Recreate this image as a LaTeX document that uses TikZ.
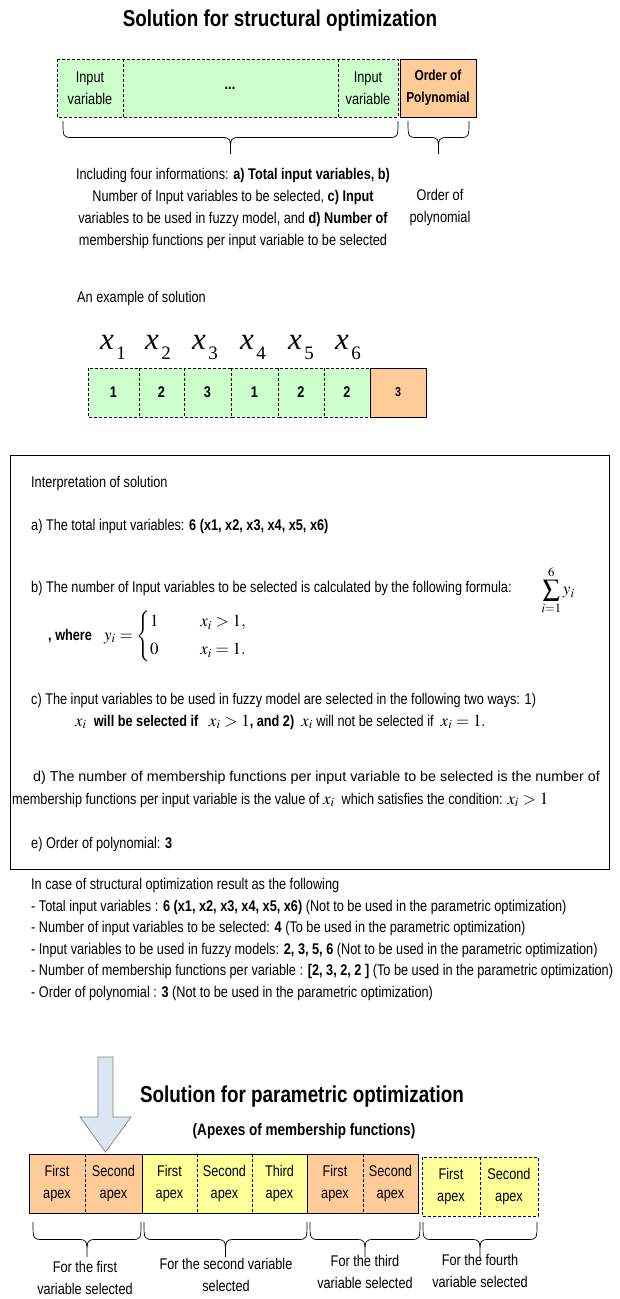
\documentclass[tikz,border=0pt]{standalone}
\usepackage{amsmath}
\usepackage{mathptmx}
\usepackage[no-math]{fontspec}
\setmainfont{Liberation Sans}[FakeStretch=0.82]
\newfontfamily\timesfont{Liberation Serif}
\newfontfamily\widefont{Liberation Sans}
\usetikzlibrary{positioning}
\definecolor{cellgreen}{HTML}{CCFFCC}
\definecolor{cellorange}{HTML}{FFCC99}
\definecolor{cellyellow}{HTML}{FFFF99}
\definecolor{arrowblue}{HTML}{DCE6F2}
% tall curly brace: x-left, x-right, y-top, height
\newcommand{\curlybrace}[4]{%
\draw[bracestyle] (#1,#3) .. controls (#1,#3+0.5*#4) .. (#1+10,#3+0.5*#4)
  -- ({(#1+#2)/2-10},#3+0.5*#4) .. controls ({(#1+#2)/2},#3+0.5*#4) .. ({(#1+#2)/2},#3+#4)
  .. controls ({(#1+#2)/2},#3+0.5*#4) .. ({(#1+#2)/2+10},#3+0.5*#4)
  -- (#2-10,#3+0.5*#4) .. controls (#2,#3+0.5*#4) .. (#2,#3);}
\newcommand{\mx}[1]{{\fontsize{17}{20}\selectfont$#1$}}
\begin{document}
\begin{tikzpicture}[x=1pt,y=-1pt,
  every node/.style={inner sep=0pt, font=\fontsize{15.5}{21.7}\selectfont},
  boldtxt/.style={font=\bfseries\fontsize{15.5}{21.7}\selectfont},
  greencell/.style={fill=cellgreen, draw=black, densely dashed, line width=0.6pt},
  orangecell/.style={fill=cellorange, draw=black, line width=0.9pt},
  yellowcell/.style={fill=cellyellow, draw=black, line width=0.6pt},
  divider/.style={draw=black, densely dashed, line width=0.6pt},
  bracestyle/.style={draw=black, line width=0.7pt},
  txt/.style={anchor=west},
  centred/.style={align=center}]
\useasboundingbox (0,0) rectangle (620,1299);

% solution for structural optimization
\path (280,21) node[font=\bfseries\fontsize{23}{26}\selectfont] (title1) {Solution for structural optimization};
\filldraw[greencell] (57,59) rectangle (398,117);
\draw[divider] (123,59) -- (123,117);
\draw[divider] (338,59) -- (338,117);
\filldraw[orangecell] (400,59) rectangle (476,117);
\path (90,88) node[centred] (iv1) {Input\\variable};
\path (230,88) node[boldtxt] (dots) {...};
\path (368,88) node[centred] (iv2) {Input\\variable};
\path (438,88) node[centred, font=\bfseries\fontsize{14.5}{21.7}\selectfont] (ord) {Order of\\Polynomial};
\curlybrace{63}{398}{121}{33}
\curlybrace{408}{469}{121}{33}
\path (233,208.5) node[centred] (info) {Including four informations: \textbf{a) Total input variables, b)}\\
  Number of Input variables to be selected, \textbf{c) Input}\\
  variables to be used in fuzzy model, and \textbf{d) Number of}\\
  membership functions  per input variable to be selected};
\path (440,207.5) node[centred] (ordtxt) {Order of\\polynomial};

% example of solution
\path (77,298) node[txt] (ex) {An example of solution};
\foreach \xl [count=\k] in {107,152,199,247,295,342}
{
  \path (\xl,342) node[font=\timesfont\itshape\fontsize{31}{31}\selectfont] (x\k) {x};
  \path (\xl+14,353) node[font=\timesfont\fontsize{19}{19}\selectfont] (s\k) {\k};
}
\foreach \a/\b/\v [count=\k] in {88/139/1, 139/184/2, 184/231/3, 231/278/1, 278/324/2, 324/370/2}
{
  \filldraw[greencell] (\a,368) rectangle (\b,417);
  \path ({(\a+\b)/2},392.5) node[boldtxt] (v\k) {\v};
}
\filldraw[orangecell] (370,368) rectangle (426,417);
\path (398,392.5) node[font=\bfseries\fontsize{13}{15}\selectfont] (v7) {3};

% interpretation
\draw[line width=1pt] (10,455) rectangle (609,869);
\path (31,483) node[txt] (interp) {Interpretation of solution};
\path (31,526) node[txt] (ia) {a) The total input variables:  \textbf{6 (x1, x2, x3, x4, x5, x6)}};
\path (31,588) node[txt] (ib) {b) The number of Input variables to be selected is calculated by the following formula:};
\path (558,590) node[font=\fontsize{17}{20}\selectfont] (sum) {$\displaystyle\sum_{i=1}^{6} y_i$};
\path (48,636) node[txt, boldtxt] (where) {, where};
\path (104,636) node[txt, font=\fontsize{17}{20}\selectfont] (yi) {$y_i = \begin{cases} 1 & \quad\;\; x_i > 1,\\[4pt] 0 & \quad\;\; x_i = 1.\end{cases}$};
\path (31,700) node[txt] (ic) {c) The input variables to be used in fuzzy model are selected in the following two ways: 1)};
\path (75,722) node[txt] (ic2) {\mx{x_i}~ \textbf{will be selected if} ~ \mx{x_i >1}\textbf{, and 2)} ~\mx{x_i} will not be selected if ~\mx{x_i =1}.};
\path (33,778) node[txt, font=\widefont\fontsize{14.3}{20}\selectfont] (id) {d) The number of membership functions  per input variable to be selected is the number of};
\path (12,800) node[txt] (id2) {membership functions per input variable is the value of \mx{x_i} ~which satisfies the condition: \mx{x_i >1}};
\path (31,844) node[txt] (ie) {e) Order of polynomial:  \textbf{3}};

% structural result
\path (31,885) node[txt] (case) {In case of structural optimization result  as the following};
\path (31,907) node[txt] (l1) {- Total input variables : \textbf{6 (x1, x2, x3, x4, x5, x6)} (Not to be used in the parametric optimization)};
\path (31,928.5) node[txt] (l2) {- Number of input variables to be selected: \textbf{4} (To be used in the parametric optimization)};
\path (31,950) node[txt] (l3) {- Input variables  to be used in fuzzy models: \textbf{2, 3, 5, 6} (Not to be used in the parametric optimization)};
\path (31,971.5) node[txt] (l4) {- Number of membership functions per variable :  \textbf{[2, 3, 2, 2 ]} (To be used in the parametric optimization)};
\path (31,993) node[txt] (l5) {- Order of polynomial : \textbf{3} (Not to be used in the parametric optimization)};

% solution for parametric optimization
\filldraw[fill=arrowblue, draw=gray, line width=0.7pt] (98,1057) -- (113,1057) -- (113,1117) -- (131,1117)
  -- (105.5,1152) -- (80,1117) -- (98,1117) -- cycle;
\path (302,1097) node[font=\bfseries\fontsize{23}{26}\selectfont] (title2) {Solution for parametric optimization};
\path (304,1131) node[font=\bfseries\fontsize{16.5}{18}\selectfont] (apex) {(Apexes of membership functions)};
\filldraw[orangecell] (29,1154) rectangle (142,1213);
\filldraw[yellowcell] (142,1154) rectangle (307,1213);
\filldraw[orangecell] (307,1154) rectangle (418,1213);
\filldraw[yellowcell, densely dashed, line width=1pt] (422,1157) rectangle (538,1216);
\foreach \xd in {85,197,252,363}
  \draw[divider] (\xd,1154) -- (\xd,1213);
\draw[divider] (480,1157) -- (480,1216);
\foreach \xc/\ys/\lab [count=\k] in {57/1183.5/First, 113.5/1183.5/Second, 169.5/1183.5/First, 224.5/1183.5/Second,
  279.5/1183.5/Third, 335/1183.5/First, 390.5/1183.5/Second, 451/1186.5/First, 509/1186.5/Second}
  \path (\xc,\ys) node[centred] (a\k) {\lab\\apex};
\curlybrace{33}{141}{1222}{35}
\curlybrace{144}{307}{1222}{35}
\curlybrace{310}{420}{1222}{35}
\curlybrace{423}{537}{1222}{35}
\path (85,1278) node[centred] (for1) {For the first\\variable selected};
\path (226,1275) node[centred] (for2) {For the second variable\\selected};
\path (365,1272) node[centred] (for3) {For the third\\variable selected};
\path (480,1271) node[centred] (for4) {For the fourth\\variable selected};
\end{tikzpicture}
\end{document}
